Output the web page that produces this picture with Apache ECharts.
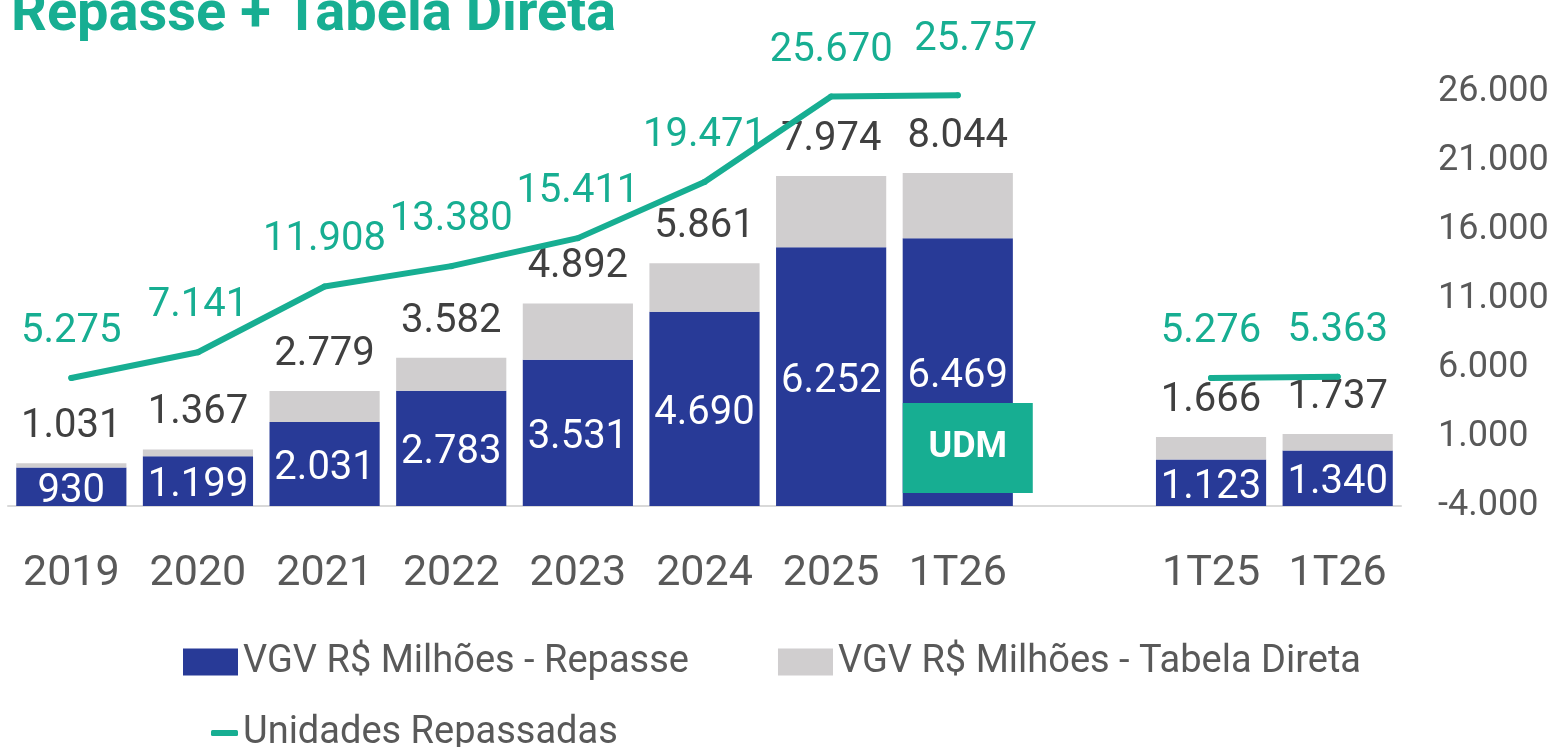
<!DOCTYPE html>
<html>
<head>
<meta charset="utf-8">
<script src="https://cdn.jsdelivr.net/npm/echarts@6/dist/echarts.min.js"></script>
<style>
  html, body { margin: 0; padding: 0; background: #fff; }
  #chart { width: 1547px; height: 747px; }
</style>
</head>
<body>
<div id="chart"></div>
<script>
// data
const categories = ['2019', '2020', '2021', '2022', '2023', '2024', '2025', '1T26', '', '1T25', '1T26'];
const repasse = [930, 1199, 2031, 2783, 3531, 4690, 6252, 6469, null, 1123, 1340];
const tabelaDireta = [101, 168, 748, 799, 1361, 1171, 1722, 1575, null, 543, 397];
const unidades = [5275, 7141, 11908, 13380, 15411, 19471, 25670, 25757, null, 5276, 5363];
const rightTicks = { min: -4000, max: 26000, interval: 5000 };

const GREEN = '#17ae92';
const BLUE = '#283a97';
const GRAY = '#d0cecf';
const FONT = 'Roboto';

function fmt(v) {
    return String(v).replace(/\B(?=(\d{3})+(?!\d))/g, '.');
}

let chart = echarts.init(document.getElementById('chart'));

chart.setOption({
    animation: false,
    title: {
        text: 'Repasse + Tabela Direta',
        left: 6,
        top: -17,
        textStyle: { fontFamily: FONT, fontSize: 56, fontWeight: 'bold', color: GREEN }
    },
    legend: [
        {
            data: ['VGV R$ Milhões - Repasse', 'VGV R$ Milhões - Tabela Direta'],
            left: 183,
            top: 643,
            padding: 0,
            icon: 'rect',
            itemWidth: 55,
            itemHeight: 27,
            itemGap: 89,
            textStyle: { fontFamily: FONT, fontSize: 38, color: '#595959' }
        },
        {
            data: [{ name: 'Unidades Repassadas', icon: 'roundRect' }],
            left: 211,
            top: 714,
            padding: 0,
            itemWidth: 27,
            itemHeight: 6,
            textStyle: { fontFamily: FONT, fontSize: 38, color: '#595959' }
        }
    ],
    grid: {
        left: 8,
        right: 146,
        top: 92,
        bottom: 241,
        outerBoundsMode: 'none'
    },
    xAxis: {
        type: 'category',
        data: categories,
        axisTick: { show: false },
        axisLine: { lineStyle: { color: '#d9d9d9', width: 2 } },
        axisLabel: { fontFamily: FONT, fontSize: 43, color: '#595959', margin: 47, interval: 0 }
    },
    yAxis: [
        {
            type: 'value',
            min: 0,
            max: 10000,
            show: false
        },
        {
            type: 'value',
            position: 'right',
            min: rightTicks.min,
            max: rightTicks.max,
            interval: rightTicks.interval,
            splitLine: { show: false },
            axisLine: { show: false },
            axisTick: { show: false },
            axisLabel: {
                fontFamily: FONT,
                fontSize: 36,
                color: '#595959',
                margin: 37,
                align: 'left',
                padding: [0, 0, 10, 0],
                formatter: fmt
            }
        }
    ],
    series: [
        {
            name: 'VGV R$ Milhões - Repasse',
            type: 'bar',
            stack: 'vgv',
            barCategoryGap: '13%',
            data: repasse,
            itemStyle: { color: BLUE },
            label: {
                show: true,
                position: 'inside',
                offset: [0, 5],
                fontFamily: FONT,
                fontSize: 40,
                color: '#fff',
                formatter: p => fmt(p.value)
            }
        },
        {
            name: 'VGV R$ Milhões - Tabela Direta',
            type: 'bar',
            stack: 'vgv',
            data: tabelaDireta,
            itemStyle: { color: GRAY },
            label: {
                show: true,
                position: 'top',
                distance: 16,
                fontFamily: FONT,
                fontSize: 40,
                color: '#404040',
                formatter: p => fmt(repasse[p.dataIndex] + tabelaDireta[p.dataIndex])
            }
        },
        {
            name: 'Unidades Repassadas',
            type: 'line',
            yAxisIndex: 1,
            data: unidades.map((v, i) => i === 7 ? { value: v, label: { offset: [18, -9] } } : v),
            symbol: 'circle',
            symbolSize: 6,
            itemStyle: { color: GREEN },
            lineStyle: { color: GREEN, width: 6, cap: 'round', join: 'round' },
            label: {
                show: true,
                position: 'top',
                distance: 23,
                fontFamily: FONT,
                fontSize: 40,
                color: GREEN,
                formatter: p => fmt(p.value)
            }
        }
    ]
});

// UDM tag over the 1T26 (last twelve months) bar
let cx = chart.convertToPixel({ xAxisIndex: 0 }, 7);
let y0 = chart.convertToPixel({ yAxisIndex: 0 }, 0);
chart.setOption({
    graphic: [
        {
            type: 'rect',
            z: 100,
            left: cx - 55,
            top: y0 - 103,
            shape: { width: 130, height: 90 },
            style: { fill: GREEN }
        },
        {
            type: 'text',
            z: 101,
            x: cx + 10,
            y: y0 - 58,
            style: {
                text: 'UDM',
                fill: '#fff',
                font: 'bold 36px ' + FONT,
                align: 'center',
                verticalAlign: 'middle'
            }
        }
    ]
});

window.addEventListener('resize', function () {
    chart.resize();
});
</script>
</body>
</html>
